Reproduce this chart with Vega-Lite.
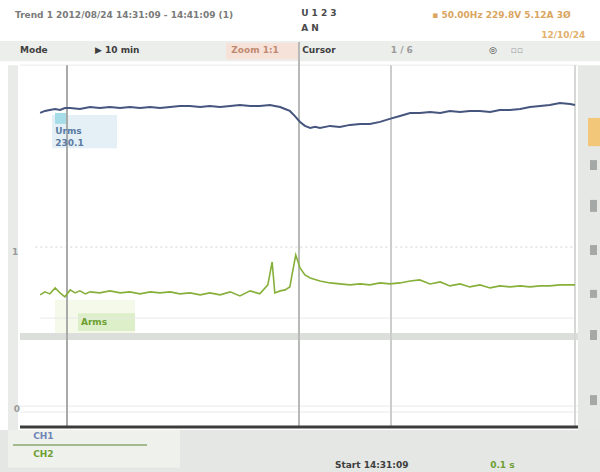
{
  "$schema": "https://vega.github.io/schema/vega-lite/v6.json",
  "width": 568,
  "height": 362,
  "autosize": "none",
  "padding": {"left": 10, "top": 65, "right": 22, "bottom": 45},
  "background": "#ffffff",
  "config": {"view": {"stroke": null}, "font": "DejaVu Sans"},
  "datasets": {
    "trace": [
      {"series":"CH1","t":0.4,"v":9.46},{"series":"CH1","t":1.3,"v":9.52},{"series":"CH1","t":2.2,"v":9.55},{"series":"CH1","t":3.2,"v":9.58},{"series":"CH1","t":4.1,"v":9.55},{"series":"CH1","t":5.0,"v":9.61},{"series":"CH1","t":6.0,"v":9.61},{"series":"CH1","t":7.8,"v":9.58},{"series":"CH1","t":9.7,"v":9.64},{"series":"CH1","t":11.5,"v":9.61},{"series":"CH1","t":13.4,"v":9.64},{"series":"CH1","t":15.3,"v":9.61},{"series":"CH1","t":17.1,"v":9.64},{"series":"CH1","t":19.0,"v":9.61},{"series":"CH1","t":20.9,"v":9.64},{"series":"CH1","t":22.7,"v":9.61},{"series":"CH1","t":24.6,"v":9.64},{"series":"CH1","t":26.4,"v":9.67},{"series":"CH1","t":28.3,"v":9.67},{"series":"CH1","t":30.2,"v":9.64},{"series":"CH1","t":32.0,"v":9.67},{"series":"CH1","t":33.9,"v":9.64},{"series":"CH1","t":35.8,"v":9.67},{"series":"CH1","t":37.6,"v":9.70},{"series":"CH1","t":39.5,"v":9.67},{"series":"CH1","t":41.3,"v":9.67},{"series":"CH1","t":43.2,"v":9.70},{"series":"CH1","t":44.1,"v":9.67},{"series":"CH1","t":45.1,"v":9.64},{"series":"CH1","t":46.0,"v":9.58},{"series":"CH1","t":46.9,"v":9.52},{"series":"CH1","t":47.8,"v":9.37},{"series":"CH1","t":48.8,"v":9.19},{"series":"CH1","t":49.7,"v":9.07},{"series":"CH1","t":50.7,"v":9.01},{"series":"CH1","t":51.6,"v":9.04},{"series":"CH1","t":52.5,"v":9.01},{"series":"CH1","t":54.4,"v":9.07},{"series":"CH1","t":56.2,"v":9.04},{"series":"CH1","t":58.1,"v":9.10},{"series":"CH1","t":60.0,"v":9.13},{"series":"CH1","t":61.8,"v":9.13},{"series":"CH1","t":63.7,"v":9.19},{"series":"CH1","t":65.5,"v":9.28},{"series":"CH1","t":67.4,"v":9.37},{"series":"CH1","t":69.3,"v":9.46},{"series":"CH1","t":71.1,"v":9.46},{"series":"CH1","t":73.0,"v":9.49},{"series":"CH1","t":74.9,"v":9.46},{"series":"CH1","t":76.7,"v":9.52},{"series":"CH1","t":78.6,"v":9.49},{"series":"CH1","t":80.4,"v":9.52},{"series":"CH1","t":82.3,"v":9.52},{"series":"CH1","t":84.2,"v":9.49},{"series":"CH1","t":86.0,"v":9.55},{"series":"CH1","t":87.9,"v":9.55},{"series":"CH1","t":89.8,"v":9.58},{"series":"CH1","t":91.6,"v":9.64},{"series":"CH1","t":93.5,"v":9.67},{"series":"CH1","t":95.3,"v":9.70},{"series":"CH1","t":97.2,"v":9.76},{"series":"CH1","t":99.1,"v":9.73},{"series":"CH1","t":100.0,"v":9.70},
      {"series":"CH2","t":0.4,"v":3.98},{"series":"CH2","t":1.3,"v":4.07},{"series":"CH2","t":2.2,"v":4.01},{"series":"CH2","t":3.2,"v":4.19},{"series":"CH2","t":4.1,"v":4.04},{"series":"CH2","t":5.0,"v":3.92},{"series":"CH2","t":6.0,"v":4.13},{"series":"CH2","t":6.9,"v":4.04},{"series":"CH2","t":7.8,"v":4.10},{"series":"CH2","t":8.8,"v":4.01},{"series":"CH2","t":9.7,"v":4.07},{"series":"CH2","t":11.5,"v":4.04},{"series":"CH2","t":13.4,"v":4.10},{"series":"CH2","t":15.3,"v":4.04},{"series":"CH2","t":17.1,"v":4.07},{"series":"CH2","t":19.0,"v":4.01},{"series":"CH2","t":20.9,"v":4.07},{"series":"CH2","t":22.7,"v":4.04},{"series":"CH2","t":24.6,"v":4.07},{"series":"CH2","t":26.4,"v":4.01},{"series":"CH2","t":28.3,"v":4.04},{"series":"CH2","t":30.2,"v":3.98},{"series":"CH2","t":32.0,"v":4.04},{"series":"CH2","t":33.9,"v":3.98},{"series":"CH2","t":35.8,"v":4.07},{"series":"CH2","t":37.6,"v":3.95},{"series":"CH2","t":39.5,"v":4.10},{"series":"CH2","t":41.3,"v":4.01},{"series":"CH2","t":42.8,"v":4.28},{"series":"CH2","t":43.6,"v":4.97},{"series":"CH2","t":44.1,"v":4.04},{"series":"CH2","t":45.1,"v":4.10},{"series":"CH2","t":46.0,"v":4.13},{"series":"CH2","t":46.9,"v":4.22},{"series":"CH2","t":47.3,"v":4.58},{"series":"CH2","t":48.0,"v":5.18},{"series":"CH2","t":48.8,"v":4.79},{"series":"CH2","t":49.7,"v":4.58},{"series":"CH2","t":50.7,"v":4.49},{"series":"CH2","t":52.5,"v":4.40},{"series":"CH2","t":54.4,"v":4.34},{"series":"CH2","t":56.2,"v":4.31},{"series":"CH2","t":58.1,"v":4.28},{"series":"CH2","t":60.0,"v":4.31},{"series":"CH2","t":61.8,"v":4.28},{"series":"CH2","t":63.7,"v":4.34},{"series":"CH2","t":65.5,"v":4.31},{"series":"CH2","t":67.4,"v":4.34},{"series":"CH2","t":69.3,"v":4.40},{"series":"CH2","t":71.1,"v":4.43},{"series":"CH2","t":73.0,"v":4.31},{"series":"CH2","t":74.9,"v":4.37},{"series":"CH2","t":76.7,"v":4.25},{"series":"CH2","t":78.6,"v":4.31},{"series":"CH2","t":80.4,"v":4.22},{"series":"CH2","t":82.3,"v":4.28},{"series":"CH2","t":84.2,"v":4.19},{"series":"CH2","t":86.0,"v":4.25},{"series":"CH2","t":87.9,"v":4.22},{"series":"CH2","t":89.8,"v":4.25},{"series":"CH2","t":91.6,"v":4.22},{"series":"CH2","t":93.5,"v":4.25},{"series":"CH2","t":95.3,"v":4.25},{"series":"CH2","t":97.2,"v":4.28},{"series":"CH2","t":99.1,"v":4.28},{"series":"CH2","t":100.0,"v":4.28}
    ],
    "rects": [
      {"kind":"band","t":-7.1,"t2":104.7,"v":11.02,"v2":11.63},
      {"kind":"panel","t":-7.1,"t2":104.7,"v":-1.4,"v2":-0.09},
      {"kind":"legendbox","t":-5.59,"t2":26.44,"v":-1.23,"v2":-0.09},
      {"kind":"side","t":100.56,"t2":104.7,"v":-0.09,"v2":10.9},
      {"kind":"leftstrip","t":-5.59,"t2":-3.72,"v":-0.09,"v2":10.9},
      {"kind":"orange","t":102.42,"t2":104.7,"v":8.46,"v2":9.31},
      {"kind":"sidedark","t":102.79,"t2":104.1,"v":7.74,"v2":8.04},
      {"kind":"sidedark","t":102.79,"t2":104.1,"v":6.48,"v2":6.84},
      {"kind":"sidedark","t":102.79,"t2":104.1,"v":5.18,"v2":5.48},
      {"kind":"sidedark","t":102.79,"t2":104.1,"v":3.89,"v2":4.13},
      {"kind":"sidedark","t":102.79,"t2":104.1,"v":2.62,"v2":2.92},
      {"kind":"sidedark","t":102.79,"t2":104.1,"v":0.66,"v2":0.96},
      {"kind":"pink","t":35.01,"t2":48.79,"v":11.08,"v2":11.57},
      {"kind":"hband","t":-3.35,"t2":100.56,"v":2.62,"v2":2.83},
      {"kind":"greenhalo","t":3.17,"t2":18.06,"v":2.83,"v2":3.83},
      {"kind":"greenlbl","t":7.45,"t2":18.06,"v":2.89,"v2":3.43},
      {"kind":"bluelbl","t":2.61,"t2":14.71,"v":8.40,"v2":9.40},
      {"kind":"cyan","t":3.17,"t2":5.4,"v":9.13,"v2":9.46}
    ],
    "labels": [
      {"kind":"head","text":"Trend 1  2012/08/24 14:31:09 - 14:41:09  (1)","t":-4.28,"v":12.41},
      {"kind":"center","text":"U 1  2  3","t":49.0,"v":12.47},
      {"kind":"center","text":"A  N","t":49.0,"v":12.02},
      {"kind":"orange","text":"▪ 50.00Hz  229.8V  5.12A  3Ø","t":73.4,"v":12.41},
      {"kind":"orange2","text":"12/10/24","t":93.7,"v":11.81},
      {"kind":"dark","text":"Mode","t":-3.35,"v":11.36},
      {"kind":"dark","text":"▶ 10 min","t":10.6,"v":11.36},
      {"kind":"pinktext","text":"Zoom 1:1","t":36.0,"v":11.36},
      {"kind":"dark","text":"Cursor","t":49.2,"v":11.36},
      {"kind":"grey","text":"1 / 6","t":65.7,"v":11.36},
      {"kind":"dark","text":"◎","t":84.0,"v":11.36},
      {"kind":"grey","text":"▫▫","t":88.0,"v":11.36},
      {"kind":"blue","text":"Urms","t":3.2,"v":8.92},
      {"kind":"blue","text":"230.1","t":3.2,"v":8.55},
      {"kind":"green","text":"Arms","t":8.0,"v":3.16},
      {"kind":"dark","text":"Start  14:31:09","t":55.3,"v":-1.14},
      {"kind":"green","text":"0.1 s","t":84.2,"v":-1.14},
      {"kind":"grey","text":"1","t":-4.84,"v":5.27},
      {"kind":"grey","text":"0","t":-4.5,"v":0.54},
      {"kind":"legblue","text":"CH1","t":-0.9,"v":-0.27},
      {"kind":"green","text":"CH2","t":-0.9,"v":-0.80}
    ]
  },
  "encoding": {
    "x": {"field": "t", "type": "quantitative", "axis": null, "scale": {"domain": [-5.214, 100.559], "nice": false, "zero": false}},
    "y": {"field": "v", "type": "quantitative", "axis": null, "scale": {"domain": [0, 10.904], "nice": false, "zero": false}}
  },
  "layer": [
    {
      "data": {"name": "rects"},
      "mark": {"type": "rect"},
      "encoding": {
        "x2": {"field": "t2"},
        "y2": {"field": "v2"},
        "color": {"field": "kind", "type": "nominal", "legend": null,
          "scale": {"domain": ["band","panel","legendbox","side","leftstrip","orange","sidedark","pink","hband","greenhalo","greenlbl","bluelbl","cyan"],
                    "range": ["#eceeec","#e4e7e4","#eef1ec","#e6e8e6","#e9ebe9","#f2c77a","#a4a8a6","#f6e2d8","#dcdedc","#f4f9ea","#dcefc8","#e4f0f6","#a6dce8"]}}
      }
    },
    {
      "data": {"values": [{"t": -0.5, "t2": 100, "v": 5.42}]},
      "mark": {"type": "rule", "color": "#cfd1cf", "strokeDash": [2, 3], "strokeWidth": 1},
      "encoding": {"x2": {"field": "t2"}}
    },
    {
      "data": {"values": [{"t": 0.4, "t2": 100, "v": 3.28}, {"t": -3.35, "t2": 100.56, "v": 0.63}, {"t": -3.35, "t2": 100.56, "v": 0.45}, {"t": -3.35, "t2": 100.56, "v": 10.9}]},
      "mark": {"type": "rule", "color": "#e8e9e8", "strokeWidth": 1},
      "encoding": {"x2": {"field": "t2"}}
    },
    {
      "data": {"values": [{"kind": "a", "t": 5.4, "v": 0, "v2": 10.9}, {"kind": "b", "t": 48.6, "v": 0, "v2": 11.6}, {"kind": "c", "t": 65.74, "v": 0, "v2": 10.9}, {"kind": "d", "t": 100.0, "v": 0, "v2": 10.9}]},
      "mark": {"type": "rule", "strokeWidth": 2},
      "encoding": {
        "y2": {"field": "v2"},
        "color": {"field": "kind", "type": "nominal", "legend": null, "scale": {"domain": ["a","b","c","d"], "range": ["#a9aba9","#b7b9b7","#cbcdcb","#d6d8d6"]}}
      }
    },
    {
      "data": {"values": [{"t": -3.35, "t2": 100.56, "v": 0}]},
      "mark": {"type": "rule", "color": "#3c3c3c", "strokeWidth": 3},
      "encoding": {"x2": {"field": "t2"}}
    },
    {
      "data": {"values": [{"t": -4.66, "t2": 20.3, "v": -0.54}]},
      "mark": {"type": "rule", "color": "#a3b98e", "strokeWidth": 2},
      "encoding": {"x2": {"field": "t2"}}
    },
    {
      "data": {"name": "trace"},
      "mark": {"type": "line", "interpolate": "linear"},
      "encoding": {
        "color": {"field": "series", "type": "nominal", "legend": null, "scale": {"domain": ["CH1","CH2"], "range": ["#46557e","#86b03a"]}},
        "strokeWidth": {"field": "series", "type": "nominal", "legend": null, "scale": {"domain": ["CH1","CH2"], "range": [2, 1.6]}},
        "detail": {"field": "series"}
      }
    },
    {
      "data": {"name": "labels"},
      "mark": {"type": "text", "align": "left", "baseline": "middle", "fontWeight": "bold"},
      "encoding": {
        "text": {"field": "text"},
        "color": {"field": "kind", "type": "nominal", "legend": null,
          "scale": {"domain": ["head","center","orange","orange2","dark","pinktext","grey","blue","green","legblue"],
                    "range": ["#7a7a7a","#4a4a4a","#d9a560","#e3b06c","#3e3e3e","#c08a70","#9a9a9a","#5a7ca4","#6f9f33","#6f86b8"]}},
        "size": {"field": "kind", "type": "nominal", "legend": null,
          "scale": {"domain": ["head","center","orange","orange2","dark","pinktext","grey","blue","green","legblue"],
                    "range": [9, 9, 10, 8, 9, 9, 9, 11, 9, 9]}}
      }
    }
  ],
  "resolve": {"scale": {"color": "independent", "size": "independent", "strokeWidth": "independent"}}
}
